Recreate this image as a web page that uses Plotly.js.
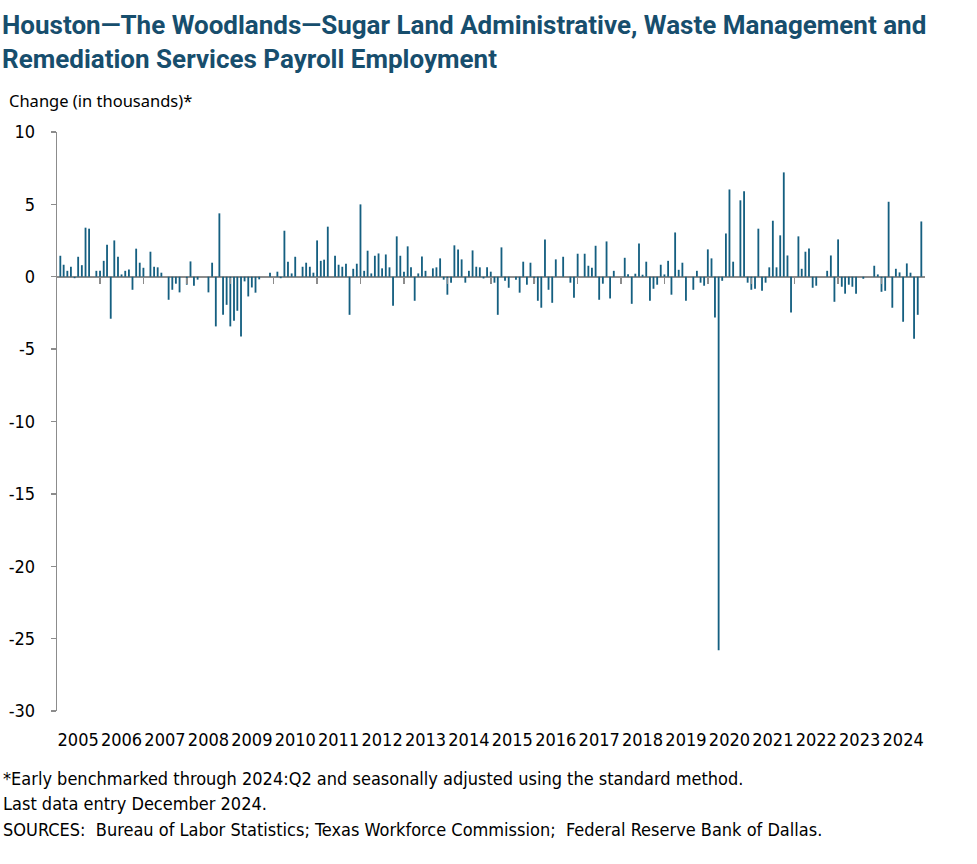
<!DOCTYPE html>
<html>
<head>
<meta charset="utf-8">
<script src="https://cdn.plot.ly/plotly-3.0.1.min.js"></script>
<style>html,body{margin:0;padding:0;background:#fff}#chart{width:977px;height:864px}</style>
</head>
<body>
<div id="chart"></div>
<script>
// Monthly change in payroll employment (thousands), Feb 2005 – Dec 2024
const v2005 = [1.45, 0.83, 0.41, 0.69, -0.1, 1.38, 0.8, 3.39, 3.32, 0, 0.41];
const v2006 = [0.41, 1.1, 2.21, -2.9, 2.51, 1.38, 0.16, 0.41, 0.5, -0.9, 1.94, 0.97];
const v2007 = [0.62, 0, 1.73, 0.69, 0.65, 0.28, 0, -1.59, -0.9, -0.48, -1.08, 0];
const v2008 = [-0.55, 1.06, -0.62, -0.2, 0, 0, -1.08, 0.97, -3.43, 4.38, -2.63, -1.94];
const v2009 = [-3.43, -3.04, -2.35, -4.12, -0.32, -1.36, -0.74, -1.1, -0.18, 0, 0, 0.28];
const v2010 = [0, 0.35, -0.1, 3.18, 1.04, 0.23, 1.38, 0, 0.69, 0.97, 0.69, 0.28];
const v2011 = [2.51, 1.1, 1.18, 3.46, 0, 1.45, 0.83, 0.69, 0.9, -2.63, 0.55, 0.9];
const v2012 = [5.0, 0.41, 1.8, 0.23, 1.45, 1.61, 0.58, 1.54, 0.65, -2.0, 2.79, 1.45];
const v2013 = [0.35, 2.1, 0.65, -1.66, 0.23, 1.4, 0.41, 0, 0.58, 0.65, 1.27, -0.2];
const v2014 = [-1.24, -0.41, 2.17, 1.89, 1.2, -0.41, 0.41, 1.82, 0.69, 0.65, -0.12, 0.65];
const v2015 = [0.35, -0.41, -2.63, 2.03, -0.28, -0.76, 0, -0.2, -1.1, 1.04, -0.55, 0.97];
const v2016 = [-0.41, -1.66, -2.14, 2.58, -0.9, -1.8, 1.2, 0, 1.38, 0, -0.41, -1.45];
const v2017 = [1.59, 0, 1.59, 0.76, 0.62, 2.14, -1.59, -0.48, 2.44, -1.5, 0.41, 0];
const v2018 = [0, 1.31, 0.18, -1.87, 0.21, 2.3, 0.14, 1.04, -1.66, -0.83, -0.55, 0.83];
const v2019 = [0.16, 1.1, -1.24, 3.06, 0.48, 0.97, -1.66, 0, -0.9, 0.41, -0.41, -0.62];
const v2020 = [1.89, 1.27, -2.81, -25.8, -0.28, 2.99, 6.03, 1.04, 0, 5.28, 5.9, -0.41];
const v2021 = [-0.9, -0.83, 3.32, -0.97, -0.41, 0.65, 3.87, 0.65, 2.86, 7.21, 1.47, -2.47];
const v2022 = [0, 2.79, 0.55, 1.73, 1.96, -0.76, -0.62, 0, 0, 0.41, 1.47, -1.73];
const v2023 = [2.58, -0.69, -1.17, -0.55, -0.69, -1.17, 0, -0.14, 0, 0, 0.76, 0.16];
const v2024 = [-1.04, -0.97, 5.18, -2.14, 0.55, 0.3, -3.11, 0.92, 0.28, -4.29, -2.63, 3.82];

const tickYears = ['2005','2006','2007','2008','2009','2010','2011','2012','2013','2014',
                   '2015','2016','2017','2018','2019','2020','2021','2022','2023','2024'];
const yTickVals = [10, 5, 0, -5, -10, -15, -20, -25, -30];
const yTickText = ['10', '5', '0', '-5', '-10', '-15', '-20', '-25', '-30'];
const yearValues = [v2005, v2006, v2007, v2008, v2009, v2010, v2011, v2012, v2013, v2014,
                    v2015, v2016, v2017, v2018, v2019, v2020, v2021, v2022, v2023, v2024];

const xDates = [], yVals = [];
yearValues.forEach((vals, k) => {
  const yr = tickYears[k];
  const first = 12 - vals.length + 1;
  vals.forEach((v, j) => {
    const m = first + j;
    xDates.push(yr + '-' + String(m).padStart(2, '0') + '-01');
    yVals.push(v);
  });
});

const labelVals = tickYears.map(y => y + '-07-01');
const boundaryVals = tickYears.slice(1).map(y => y + '-01-01');

const GRAY = '#8c8c8c';
const NARROW = '"Liberation Sans Narrow", "Arial Narrow", "DejaVu Sans Condensed", sans-serif';
const xRange = ['2005-01-04', '2025-01-01'];

const traces = [
  {
    type: 'bar', x: xDates, y: yVals,
    marker: {color: '#155f80', line: {width: 0}},
    hoverinfo: 'x+y', showlegend: false
  },
  {
    type: 'scatter', x: [], y: [], xaxis: 'x2', yaxis: 'y',
    showlegend: false, hoverinfo: 'skip'
  }
];

const layout = {
  width: 977, height: 864,
  paper_bgcolor: '#fff', plot_bgcolor: '#fff',
  margin: {l: 57, r: 52, t: 132, b: 153},
  bargap: 0.45,
  showlegend: false,
  title: {
    text: 'Houston—The Woodlands—Sugar Land Administrative, Waste Management and<br>Remediation Services Payroll Employment',
    x: 2 / 977, xref: 'container', xanchor: 'left',
    y: 1 - 34 / 864, yref: 'container', yanchor: 'top',
    font: {family: 'Roboto, "Open Sans", sans-serif', size: 26, color: '#174e6d', weight: 700}
  },
  xaxis: {
    type: 'date', range: xRange,
    tickmode: 'array', tickvals: labelVals, ticktext: tickYears,
    ticks: '', showline: false, showgrid: false, zeroline: false,
    ticklabelstandoff: 16,
    tickfont: {family: NARROW, size: 18, color: '#000'}
  },
  xaxis2: {
    type: 'date', range: xRange, overlaying: 'x', anchor: 'free', position: 0.75,
    side: 'bottom',
    tickmode: 'array', tickvals: boundaryVals,
    ticks: 'outside', ticklen: 6, tickwidth: 1.5, tickcolor: GRAY,
    showticklabels: false, showline: false, showgrid: false, zeroline: false
  },
  yaxis: {
    range: [-30, 10], tickmode: 'array', tickvals: yTickVals, ticktext: yTickText,
    showline: true, linecolor: GRAY, linewidth: 1.3,
    ticks: 'outside', ticklen: 5, tickcolor: GRAY, tickwidth: 1.3,
    showgrid: false, zeroline: true, zerolinecolor: GRAY, zerolinewidth: 1.5,
    ticklabelstandoff: 12,
    tickfont: {family: NARROW, size: 18, color: '#000'}
  },
  annotations: [
    {text: 'Change (in thousands)*', xref: 'paper', yref: 'paper',
     x: (7 - 57) / 868, y: (711 - 100) / 579, xanchor: 'left', yanchor: 'middle',
     showarrow: false, font: {family: '"Noto Sans", "Open Sans", sans-serif', size: 16.5, color: '#000'}},
    {text: '*Early benchmarked through 2024:Q2 and seasonally adjusted using the standard method.',
     xref: 'paper', yref: 'paper', x: (1 - 57) / 868, y: (711 - 778) / 579,
     xanchor: 'left', yanchor: 'middle', showarrow: false,
     font: {family: NARROW, size: 18, color: '#000'}},
    {text: 'Last data entry December 2024.',
     xref: 'paper', yref: 'paper', x: (1 - 57) / 868, y: (711 - 803) / 579,
     xanchor: 'left', yanchor: 'middle', showarrow: false,
     font: {family: NARROW, size: 18, color: '#000'}},
    {text: 'SOURCES:  Bureau of Labor Statistics; Texas Workforce Commission;  Federal Reserve Bank of Dallas.',
     xref: 'paper', yref: 'paper', x: (1 - 57) / 868, y: (711 - 829) / 579,
     xanchor: 'left', yanchor: 'middle', showarrow: false,
     font: {family: NARROW, size: 18, color: '#000'}}
  ]
};

Plotly.newPlot('chart', traces, layout, {staticPlot: true, displayModeBar: false});
</script>
</body>
</html>
